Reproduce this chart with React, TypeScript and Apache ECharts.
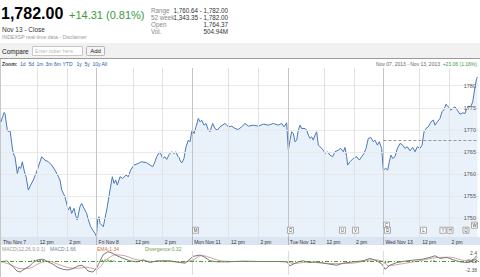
import React, { useEffect, useRef } from "react";
import * as echarts from "echarts";

// ---- price data (time in trading days from Thu Nov 7 open, price) ----
const priceTimes = [
  0.0, 0.031, 0.042, 0.066, 0.077, 0.094, 0.122, 0.136, 0.146, 0.171, 0.188, 0.206, 0.223, 0.241, 0.262, 0.286, 0.31, 0.338, 0.366, 0.391, 0.425, 0.46, 0.495, 0.53, 0.565, 0.6, 0.617, 0.635, 0.669, 0.704, 0.722, 0.739, 0.764, 0.785, 0.798, 0.826, 0.844, 0.868, 0.896, 0.914, 0.938, 0.959, 0.983, 0.998,
  1.011, 1.025, 1.036, 1.07, 1.098, 1.112, 1.14, 1.165, 1.182, 1.199, 1.217, 1.245, 1.273, 1.308, 1.332, 1.356, 1.391, 1.437, 1.471, 1.524, 1.559, 1.587, 1.611, 1.628, 1.663, 1.691, 1.715, 1.733, 1.761, 1.785, 1.81, 1.831, 1.848, 1.862, 1.879, 1.893, 1.914, 1.935, 1.96, 1.977, 1.998,
  2.019, 2.04, 2.064, 2.082, 2.099, 2.123, 2.144, 2.169, 2.186, 2.214, 2.238, 2.263, 2.291, 2.343, 2.378, 2.413, 2.448, 2.483, 2.517, 2.552, 2.587, 2.639, 2.692, 2.744, 2.796, 2.849, 2.901, 2.936, 2.96, 2.988,
  3.006, 3.023, 3.04, 3.058, 3.075, 3.093, 3.11, 3.128, 3.145, 3.18, 3.197, 3.215, 3.232, 3.25, 3.267, 3.285, 3.302, 3.319, 3.337, 3.372, 3.389, 3.413, 3.441, 3.469, 3.494, 3.529, 3.553, 3.581, 3.598, 3.616, 3.626, 3.651, 3.685, 3.72, 3.748, 3.773, 3.797, 3.818, 3.842, 3.867, 3.895, 3.912, 3.937, 3.957, 3.982,
  3.999, 4.024, 4.045, 4.062, 4.079, 4.097, 4.121, 4.146, 4.174, 4.202, 4.226, 4.25, 4.278, 4.306, 4.331, 4.355, 4.383, 4.404, 4.425, 4.446, 4.47, 4.498, 4.522, 4.54, 4.564, 4.592, 4.613, 4.634, 4.655, 4.679, 4.704, 4.725, 4.749, 4.773, 4.801, 4.829, 4.854, 4.871, 4.892, 4.913, 4.934, 4.948, 4.962, 4.975, 4.985,
];
const prices = [
  1771.83, 1773.94, 1773.72, 1769.95, 1769.58, 1769.95, 1765.44, 1764.31, 1763.93, 1760.17, 1761.68, 1761.3, 1762.81, 1760.93, 1759.42, 1756.41, 1757.54, 1758.67, 1760.17, 1761.68, 1763.93, 1763.18, 1762.81, 1762.05, 1760.93, 1759.42, 1758.67, 1756.41, 1754.91, 1751.9, 1752.65, 1751.14, 1752.27, 1750.39, 1749.64, 1752.65, 1753.4, 1752.27, 1751.14, 1749.64, 1748.13, 1747.38, 1746.63, 1745.95,
  1749.64, 1750.39, 1748.89, 1748.13, 1751.14, 1752.65, 1756.41, 1759.42, 1757.92, 1758.67, 1757.54, 1759.42, 1759.04, 1759.8, 1759.42, 1760.93, 1762.05, 1762.43, 1762.81, 1762.58, 1762.05, 1761.68, 1762.81, 1763.93, 1765.06, 1763.56, 1763.93, 1763.33, 1764.54, 1765.06, 1764.69, 1765.06, 1764.09, 1763.78, 1762.81, 1762.58, 1763.56, 1766.19, 1767.7, 1767.32, 1769.95,
  1769.2, 1770.71, 1772.59, 1771.83, 1772.21, 1771.08, 1771.46, 1769.95, 1769.58, 1771.46, 1770.33, 1769.95, 1770.71, 1771.46, 1770.71, 1770.86, 1770.33, 1770.1, 1770.71, 1771.46, 1770.86, 1771.08, 1770.86, 1771.31, 1771.08, 1771.46, 1771.08, 1771.46, 1770.71, 1771.61,
  1765.44, 1767.7, 1769.58, 1769.2, 1767.32, 1767.7, 1769.95, 1771.08, 1770.33, 1770.33, 1769.95, 1768.83, 1768.07, 1768.45, 1767.7, 1768.83, 1769.58, 1766.57, 1766.2, 1765.45, 1764.69, 1765.07, 1764.32, 1763.94, 1765.07, 1765.45, 1765.82, 1765.07, 1766.05, 1763.94, 1762.06, 1762.81, 1763.56, 1763.94, 1763.19, 1763.94, 1764.69, 1765.82, 1768.08, 1768.3, 1767.33, 1767.7, 1766.57, 1767.33, 1765.82,
  1760.93, 1761.31, 1760.93, 1762.81, 1764.32, 1763.56, 1763.94, 1765.82, 1766.95, 1766.57, 1765.82, 1766.2, 1765.29, 1766.05, 1765.07, 1766.2, 1765.82, 1766.57, 1769.58, 1770.34, 1770.71, 1771.84, 1772.22, 1771.09, 1771.84, 1772.59, 1774.1, 1774.62, 1775.83, 1775.23, 1774.47, 1774.85, 1775.23, 1774.47, 1773.57, 1773.87, 1773.72, 1774.85, 1775.38, 1775.23, 1776.36, 1778.24, 1780.12, 1781.62, 1782.0,
];
const prevClose = 1767.69;
const yTicks = [1750, 1755, 1760, 1765, 1770, 1775, 1780];
const dayStarts = [1, 2, 3, 4];
const intradayTicks = [0.3846, 0.6923, 1.3846, 1.6923, 2.3846, 2.6923, 3.3846, 3.6923, 4.3846, 4.6923];
const xTickValues = [0, 0.3846, 0.6923, 1, 1.3846, 1.6923, 2, 2.3846, 2.6923, 3, 3.3846, 3.6923, 4, 4.3846, 4.6923];
const xTickLabels = ["Thu Nov 7", "12 pm", "2 pm", "Fri Nov 8", "12 pm", "2 pm", "Mon Nov 11", "12 pm", "2 pm", "Tue Nov 12", "12 pm", "2 pm", "Wed Nov 13", "12 pm", "2 pm"];

// ---- event flags ----
const flagTimes = [2.035, 3.028, 3.572, 3.708, 4.032, 4.043, 4.419, 4.623, 4.697, 4.864, 4.953];
const flagLetters = ["M", "O", "U", "V", "C", "D", "L", "Y", "H", "Q", "W"];
const flagLevels = [4, 4, 4, 4, 7, 4, 4, 4, 4, 4, 7];

// ---- MACD panel ----
const macdTimes = [
  0.0, 0.063, 0.094, 0.126, 0.167, 0.199, 0.23, 0.272, 0.303, 0.335, 0.387, 0.439, 0.492, 0.544, 0.596, 0.649, 0.701, 0.753, 0.805, 0.847, 0.879, 0.91, 0.962,
  1.004, 1.036, 1.067, 1.119, 1.161, 1.213, 1.276, 1.349, 1.423, 1.485, 1.559, 1.632, 1.663, 1.768, 1.872, 1.925, 1.977,
  2.008, 2.082, 2.134, 2.186, 2.259, 2.364, 2.531, 2.709, 2.887, 2.992,
  3.023, 3.054, 3.107, 3.159, 3.232, 3.285, 3.337, 3.441, 3.515, 3.577, 3.682, 3.787, 3.86, 3.933, 3.985,
  4.017, 4.069, 4.142, 4.247, 4.351, 4.414, 4.487, 4.54, 4.592, 4.665, 4.728, 4.801, 4.874, 4.927, 4.958, 4.979,
];
const macdValues = [
  -0.09, 0.2, -0.76, -1.42, -2.67, -2.96, -2.38, -1.71, -1.23, -0.28, 0.49, 0.68, -0.09, -0.76, -1.71, -2.19, -2.38, -2.0, -1.23, -1.04, -1.71, -2.67, -2.96,
  -1.71, 0.2, 1.83, 2.78, 2.4, 1.63, 0.87, 0.2, -0.09, 0.49, -0.28, 0.2, 0.2, 0.2, -0.28, -0.47, 0.68,
  1.44, 1.83, 1.16, 0.2, -0.09, -0.09, 0.11, 0.01, 0.01, -0.09,
  -1.23, -0.76, -0.09, 0.2, -0.28, -0.09, -0.28, -0.76, -1.04, -0.47, -0.09, 0.2, 0.87, 0.2, -0.76,
  -2.19, -1.04, -0.28, 0.2, 0.49, 0.68, 1.16, 1.63, 0.87, 1.16, 0.49, -0.09, -0.28, 0.2, 1.16, 1.66,
];
const emaTimes = [0.0, 0.1, 0.2, 0.3, 0.4, 0.5, 0.6, 0.7, 0.8, 0.9, 1.0, 1.1, 1.2, 1.3, 1.4, 1.5, 1.6, 1.7, 1.9, 2.0, 2.1, 2.2, 2.3, 2.5, 3.0, 3.05, 3.2, 3.5, 3.7, 3.9, 4.0, 4.05, 4.2, 4.4, 4.55, 4.7, 4.85, 4.95, 4.985];
const emaValues = [0.0, -0.9, -2.0, -1.9, -0.5, 0.1, -0.8, -1.7, -1.9, -1.6, -2.2, 0.5, 1.9, 1.6, 0.6, 0.2, 0.0, 0.1, -0.2, 0.3, 1.7, 1.0, 0.2, 0.0, 0.0, -0.6, -0.2, -0.6, -0.4, 0.5, 0.0, -1.2, -0.6, 0.3, 1.1, 1.2, 0.3, 0.4, 1.34];
const divTimes = [0.32, 0.35, 0.38, 0.41, 0.44, 0.47, 1.06, 1.09, 1.12, 1.15, 1.18, 1.98, 2.01, 2.04, 3.02, 3.05, 3.84, 3.87, 4.02, 4.05, 4.5, 4.53, 4.97, 4.98];
const divValues = [0.3, 0.45, 0.5, 0.45, 0.4, 0.2, 0.5, 0.6, 0.55, 0.4, 0.3, 0.3, 0.35, 0.2, -0.4, -0.3, 0.3, 0.25, -0.6, -0.4, 0.3, 0.35, 0.3, 0.32];
const macdTicks = [2.4, 0.02, -2.38];

// ---- header texts ----
const lastPrice = "1,782.00";
const change = "+14.31 (0.81%)";
const statLabels = ["Range", "52 week", "Open", "Vol."];
const statValues = ["1,760.64 - 1,782.00", "1,343.35 - 1,782.00", "1,764.37", "504.94M"];
const zoomLinks = ["1d", "5d", "1m", "3m", "6m", "YTD", "1y", "5y", "10y", "All"];
const zoomLinkX = [20, 28.5, 36.5, 45.5, 54, 62.5, 76.5, 84.5, 92.5, 101.5];

const FONT = "Arial, 'Liberation Sans', sans-serif";

export default function App() {
  const ref = useRef<HTMLDivElement>(null);
  useEffect(() => {
    if (!ref.current) return;
    const chart = echarts.init(ref.current, undefined, { renderer: "svg" });
    const green = "#3b9a3b";
    const txt = (text: string, x: number, y: number, size: number, fill: string, extra: any = {}) => ({
      type: "text",
      x,
      y,
      z: 5,
      silent: true,
      style: { text, fontSize: size, fontFamily: FONT, fill, textVerticalAlign: "middle", textAlign: "left", ...extra },
    });
    const graphics: any[] = [
      { type: "rect", z: -2, shape: { x: 0, y: 43, width: 480, height: 15 }, style: { fill: "#f1f1f1" } },
      { type: "line", z: -1, shape: { x1: 0, y1: 58.5, x2: 480, y2: 58.5 }, style: { stroke: "#9a9a9a", lineWidth: 1 } },
      { type: "line", z: -1, shape: { x1: 0.5, y1: 59, x2: 0.5, y2: 277 }, style: { stroke: "#c8c8c8", lineWidth: 1 } },
      { type: "rect", z: -1, shape: { x: 1, y: 237, width: 479, height: 8 }, style: { fill: "#dbe5f2" } },
      txt(lastPrice, 1, 13.5, 16, "#000", { fontWeight: "bold" }),
      txt(change, 69, 15, 11, green),
      txt("Nov 13 - Close", 2, 29.5, 6.5, "#333"),
      txt("INDEXSP real-time data - Disclaimer", 2, 37, 5.2, "#999"),
      txt("Compare", 2, 51, 6.5, "#222"),
      { type: "rect", z: 4, shape: { x: 32.5, y: 46.5, width: 50, height: 9 }, style: { fill: "#fff", stroke: "#c8c8c8", lineWidth: 1 } },
      txt("Enter ticker here", 35, 51, 5.2, "#bbb"),
      { type: "rect", z: 4, shape: { x: 86.5, y: 46.5, width: 18, height: 9, r: 1 }, style: { fill: "#f4f4f4", stroke: "#b5b5b5", lineWidth: 1 } },
      txt("Add", 95.5, 51, 6, "#222", { textAlign: "center" }),
      txt("Zoom:", 2, 63.5, 5, "#333", { fontWeight: "bold" }),
      txt("Nov 07, 2013 - Nov 13, 2013", 440, 63.5, 5, "#666", { textAlign: "right" }),
      txt("+23.06 (1.16%)", 477, 63.5, 5, green, { textAlign: "right" }),
      txt("MACD(12,26,9,0.1)", 2, 248.5, 5, "#999"),
      txt("MACD:1.66", 50, 248.5, 5, "#6d80a8"),
      txt("EMA:1.34", 97, 248.5, 5, "#d0703a"),
      txt("Divergence:0.32", 145, 248.5, 5, "#6aa04a"),
    ];
    statLabels.forEach((l, i) => {
      const y = 10.5 + i * 7.1;
      graphics.push(txt(l, 151, y, 6.3, "#888"));
      graphics.push(txt(statValues[i], 228, y, 6.3, "#333", { textAlign: "right" }));
    });
    zoomLinks.forEach((l, i) => {
      graphics.push(txt(l, zoomLinkX[i], 63.5, 5, "#2a55a8"));
    });

    const priceData = priceTimes.map((t, i) => [t, prices[i]]);
    const macdData = macdTimes.map((t, i) => [t, macdValues[i]]);
    const emaData = emaTimes.map((t, i) => [t, emaValues[i]]);
    const divData = divTimes.map((t, i) => [t, divValues[i]]);
    const flagData = flagTimes.map((t, i) => [t, flagLevels[i]]);
    const noSym: any = ["none", "none"];

    chart.setOption({
      animation: false,
      backgroundColor: "#fff",
      textStyle: { fontFamily: FONT },
      graphic: graphics,
      grid: [
        { left: 1, right: 1, top: 68, height: 169 },
        { left: 1, right: 1, top: 251, height: 24 },
      ],
      xAxis: [
        {
          type: "value",
          gridIndex: 0,
          min: 0,
          max: 5,
          z: 10,
          axisLine: { show: false },
          splitLine: { show: false },
          axisTick: { show: true, customValues: dayStarts, length: 8, lineStyle: { color: "#aab4c4" } },
          axisLabel: {
            customValues: xTickValues,
            fontSize: 5,
            color: "#333",
            align: "left",
            margin: 2,
            padding: [0, 0, 0, 2],
            formatter: (v: number) => {
              const i = xTickValues.findIndex((x) => Math.abs(x - v) < 1e-6);
              return i >= 0 ? xTickLabels[i] : "";
            },
          },
        },
        { type: "value", gridIndex: 1, min: 0, max: 5, show: false },
      ],
      yAxis: [
        {
          type: "value",
          gridIndex: 0,
          position: "right",
          min: 1745.8,
          max: 1784,
          z: 10,
          axisLine: { show: false },
          axisTick: { show: false },
          splitLine: { show: false },
          axisLabel: { inside: true, customValues: yTicks, fontSize: 5.5, color: "#555", margin: 3, formatter: (v: number) => String(v) },
        },
        { type: "value", gridIndex: 0, min: 0, max: 100, show: false },
        {
          type: "value",
          gridIndex: 1,
          position: "right",
          min: -3.79,
          max: 2.96,
          z: 10,
          axisLine: { show: false },
          axisTick: { show: false },
          splitLine: { show: false },
          axisLabel: { inside: true, customValues: macdTicks, fontSize: 5, color: "#555", margin: 2, formatter: (v: number) => String(v) },
        },
      ],
      series: [
        {
          type: "line",
          xAxisIndex: 0,
          yAxisIndex: 0,
          data: priceData,
          showSymbol: false,
          lineStyle: { color: "#4a79b8", width: 1 },
          areaStyle: { color: "#e9f1fb", origin: "start", opacity: 1 },
          markLine: {
            silent: true,
            symbol: noSym,
            label: { show: false },
            data: [
              ...yTicks.map((v) => ({ yAxis: v, lineStyle: { color: "#e9e9e9", width: 1, type: "solid" } })),
              ...intradayTicks.map((v) => ({ xAxis: v, lineStyle: { color: "#e2e2e2", width: 1, type: "solid" } })),
              ...dayStarts.map((v) => ({ xAxis: v, lineStyle: { color: "#c4c4c4", width: 1, type: "solid" } })),
              [
                { coord: [4, prevClose], lineStyle: { color: "#808080", width: 0.8, type: [3, 2] } },
                { coord: [4.99, prevClose] },
              ],
            ],
          },
        },
        {
          type: "scatter",
          xAxisIndex: 0,
          yAxisIndex: 1,
          data: flagData,
          symbol: "rect",
          symbolSize: [6, 6],
          z: 6,
          itemStyle: { color: "#fff", borderColor: "#8a8a8a", borderWidth: 0.7, opacity: 1 },
          label: {
            show: true,
            position: "inside",
            fontSize: 4.5,
            color: "#444",
            formatter: (p: any) => flagLetters[p.dataIndex],
          },
        },
        {
          type: "bar",
          xAxisIndex: 1,
          yAxisIndex: 2,
          data: divData,
          barWidth: 1.5,
          itemStyle: { color: "#5aa03c" },
          markLine: {
            silent: true,
            symbol: noSym,
            label: { show: false },
            data: [
              ...dayStarts.map((v) => ({ xAxis: v, lineStyle: { color: "#dcdcdc", width: 1, type: "solid" } })),
              { yAxis: 0, lineStyle: { color: "#4c9a3c", width: 1, type: [4, 2, 1, 2] } },
            ],
          },
        },
        {
          type: "line",
          xAxisIndex: 1,
          yAxisIndex: 2,
          data: emaData,
          showSymbol: false,
          smooth: 0.3,
          lineStyle: { color: "#d2a0a0", width: 1 },
        },
        {
          type: "line",
          xAxisIndex: 1,
          yAxisIndex: 2,
          data: macdData,
          showSymbol: false,
          lineStyle: { color: "#7a7a7a", width: 1 },
        },
      ],
    });
    return () => chart.dispose();
  }, []);
  return (
    <div
      ref={ref}
      style={{ position: "absolute", left: 0, top: 0, width: 480, height: 277, background: "#fff" }}
    />
  );
}
